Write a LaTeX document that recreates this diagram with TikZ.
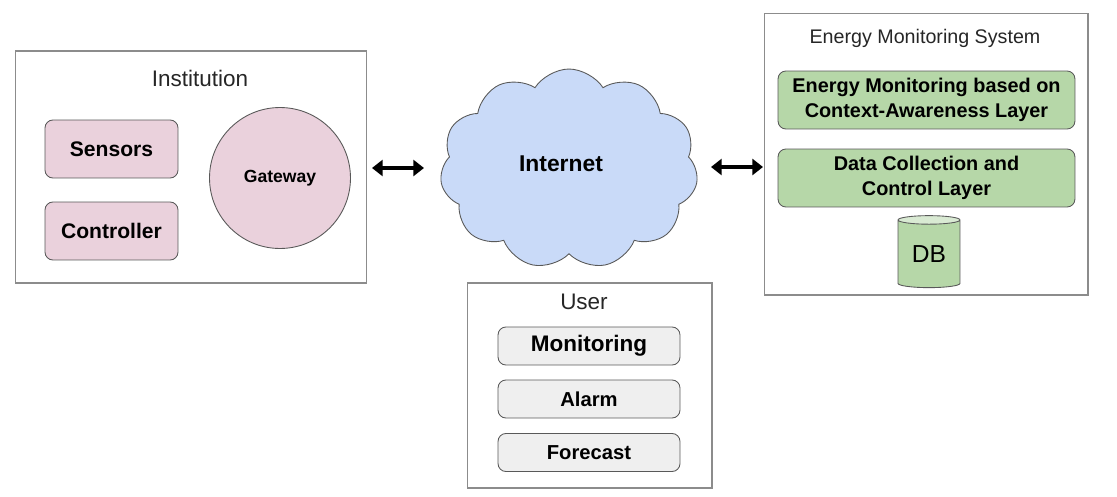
\documentclass[tikz,border=0pt]{standalone}
\usepackage{fontspec}
\setmainfont{Liberation Sans}
\usetikzlibrary{arrows.meta,shapes.symbols,shapes.geometric}

\definecolor{pinkfill}{HTML}{EAD1DC}
\definecolor{cloudfill}{HTML}{C9DAF8}
\definecolor{greenfill}{HTML}{B6D7A8}
\definecolor{greentop}{HTML}{D9EAD3}
\definecolor{grayfill}{HTML}{EFEFEF}
\definecolor{lineclr}{HTML}{595959}
\definecolor{frameclr}{HTML}{8C8C8C}

\begin{document}
\begin{tikzpicture}[x=0.02cm,y=-0.02cm]
%%%%%%%%%%%%%%%%%%%%%%%%%%%%%%%%%%%%%%%%%%%%%%%%%%%%%%%%
% STYLE
\tikzstyle{frame}=[rectangle,draw=frameclr,line width=0.6pt,inner sep=0pt]
\tikzstyle{title}=[font=\fontsize{12.8}{15}\selectfont,text=black!85]
\tikzstyle{box}=[rectangle,rounded corners=4.5pt,draw=lineclr,line width=0.5pt,inner sep=0pt,align=center,font=\bfseries\fontsize{12}{14}\selectfont]
\tikzstyle{dev}=[box,fill=pinkfill,minimum width=2.66cm,minimum height=1.16cm]
\tikzstyle{layer}=[box,fill=greenfill,minimum width=5.94cm,minimum height=1.16cm,font=\bfseries\fontsize{11.3}{14}\selectfont]
\tikzstyle{func}=[box,fill=grayfill,minimum width=3.64cm,minimum height=0.76cm,font=\bfseries\fontsize{11.5}{14}\selectfont]

\tikzset{link/.style={{Triangle[length=6pt,width=9pt]}-{Triangle[length=6pt,width=9pt]},line width=2.6pt}}

\useasboundingbox (0,0) rectangle (1117,497);
%%%%%%%%%%%%%%%%%%%%%%%%%%%%%%%%%%%%%%%%%%%%%%%%%%%%%%%%
% NODES
\node[frame,minimum width=7.04cm,minimum height=4.64cm] (inst) at (191,167) {};
\node[title] (instT) at (200,78) {Institution};
\node[dev] (sens) at (111.5,149) {Sensors};
\node[dev] (ctrl) at (111.5,231) {Controller};
\node[circle,draw=lineclr,line width=0.5pt,fill=pinkfill,minimum size=2.82cm,font=\bfseries\fontsize{10}{12}\selectfont] (gw) at (280,178) {Gateway};

\node[cloud,cloud puffs=11,cloud puff arc=115,aspect=1.3,draw=lineclr,line width=0.5pt,fill=cloudfill,minimum width=5.16cm,minimum height=4cm] (inet) at (569,169) {};
\node[font=\bfseries\fontsize{13}{15}\selectfont] (inetT) at (561,164) {Internet};

\node[frame,minimum width=6.48cm,minimum height=5.64cm] (ems) at (926,154) {};
\node[title,font=\fontsize{11.2}{13}\selectfont] (emsT) at (925,38) {Energy Monitoring System};
\node[layer] (ctx) at (926.5,100) {Energy Monitoring based on\\Context-Awareness Layer};
\node[layer] (dcc) at (926.5,178) {Data Collection and\\Control Layer};
\node[cylinder,shape border rotate=90,aspect=0.25,draw=lineclr,line width=0.5pt,cylinder uses custom fill,cylinder body fill=greenfill,cylinder end fill=greentop,minimum width=1.24cm,minimum height=1.44cm,inner sep=0pt,font=\fontsize{14}{16}\selectfont] (db) at (929,254) {DB};

\node[frame,minimum width=4.9cm,minimum height=4.1cm] (user) at (589.5,385.5) {};
\node[title] (userT) at (584,302) {User};
\node[func,font=\bfseries\fontsize{12.8}{15}\selectfont] (mon) at (589,346) {Monitoring};
\node[func] (alarm) at (589,399) {Alarm};
\node[func] (fcst) at (589,452.5) {Forecast};

\coordinate (l1) at (372,168);
\coordinate (l2) at (424,168);
\coordinate (r1) at (711,167);
\coordinate (r2) at (763,167);
%%%%%%%%%%%%%%%%%%%%%%%%%%%%%%%%%%%%%%%%%%%%%%%%%%%%%%%%
% LINKS
\draw[link] (l1) -- (l2);
\draw[link] (r1) -- (r2);
\end{tikzpicture}
\end{document}
